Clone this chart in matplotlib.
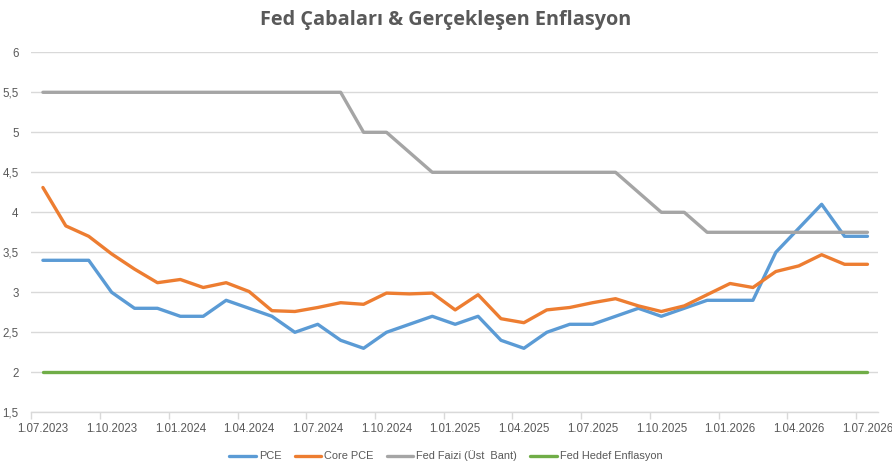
import matplotlib
matplotlib.use("Agg")
import matplotlib.pyplot as plt
from matplotlib.ticker import FixedLocator, FuncFormatter

months = ["2023-07","2023-08","2023-09","2023-10","2023-11","2023-12",
          "2024-01","2024-02","2024-03","2024-04","2024-05","2024-06",
          "2024-07","2024-08","2024-09","2024-10","2024-11","2024-12",
          "2025-01","2025-02","2025-03","2025-04","2025-05","2025-06",
          "2025-07","2025-08","2025-09","2025-10","2025-11","2025-12",
          "2026-01","2026-02","2026-03","2026-04","2026-05","2026-06","2026-07"]

pce = [3.4,3.4,3.4,3.0,2.8,2.8,2.7,2.7,2.9,2.8,2.7,2.5,2.6,2.4,2.3,2.5,2.6,2.7,
       2.6,2.7,2.4,2.3,2.5,2.6,2.6,2.7,2.8,2.7,2.8,2.9,2.9,2.9,3.5,3.8,4.1,3.7,3.7]
core_pce = [4.31,3.83,3.70,3.48,3.29,3.12,3.16,3.06,3.12,3.01,2.77,2.76,2.81,2.87,2.85,2.99,2.98,2.99,
            2.78,2.97,2.67,2.62,2.78,2.81,2.87,2.92,2.83,2.76,2.83,2.97,3.11,3.06,3.26,3.33,3.47,3.35,3.35]
fed_rate = [5.5]*14 + [5.0,5.0,4.75] + [4.5]*9 + [4.25,4.0,4.0] + [3.75]*8
fed_target = [2.0]*37

tick_labels = ["1.07.2023","1.10.2023","1.01.2024","1.04.2024","1.07.2024","1.10.2024",
               "1.01.2025","1.04.2025","1.07.2025","1.10.2025","1.01.2026","1.04.2026","1.07.2026"]

series_names = ["PCE", "Core PCE", "Fed Faizi (Üst  Bant)", "Fed Hedef Enflasyon"]
colors = ["#5B9BD5", "#ED7D31", "#A5A5A5", "#70AD47"]

plt.rcParams['font.family'] = ['Liberation Sans', 'DejaVu Sans']

fig = plt.figure(figsize=(8.92, 4.73), dpi=100)
ax = fig.add_axes([31/892, 1-412.3/473, (878-31)/892, (412.3-52.3)/473])

x = list(range(len(months)))
for vals, name, c in zip([pce, core_pce, fed_rate, fed_target], series_names, colors):
    ax.plot(x, vals, color=c, lw=2.4, label=name, solid_capstyle='round', solid_joinstyle='round')

ax.set_ylim(1.5, 6)
ax.set_xlim(-0.52, 36.46)
ax.set_yticks([1.5,2,2.5,3,3.5,4,4.5,5,5.5,6])
ax.yaxis.set_major_formatter(FuncFormatter(lambda v, p: ('%g' % v).replace('.', ',')))
ax.grid(axis='y', color='#D9D9D9', lw=1)
ax.set_axisbelow(True)

ax.set_xticks(list(range(0, 37, 3)))
ax.set_xticklabels(tick_labels)
ax.xaxis.set_minor_locator(FixedLocator([i - 0.5 for i in range(0, 37, 3)]))
ax.tick_params(axis='x', which='major', length=0, pad=8, labelsize=8.3, labelcolor='#595959')
ax.tick_params(axis='x', which='minor', length=5, color='#D9D9D9', width=1)
ax.tick_params(axis='y', length=0, pad=9, labelsize=8.3, labelcolor='#595959')

for s in ['left', 'right', 'top']:
    ax.spines[s].set_visible(False)
ax.spines['bottom'].set_color('#D9D9D9')
ax.spines['bottom'].set_linewidth(1)

fig.text(0.5, 1-20/473, "Fed Çabaları & Gerçekleşen Enflasyon", ha='center', va='center',
         fontsize=14.3, fontweight='bold', color='#595959', family=['Open Sans', 'DejaVu Sans'])

leg = fig.legend(loc='center', bbox_to_anchor=(0.5, 1-456/473), ncol=4, frameon=False,
                 fontsize=7.9, handlelength=2.4, handletextpad=0.3, columnspacing=1.2)
for t in leg.get_texts():
    t.set_color('#595959')

fig.savefig("out.png", dpi=100)
